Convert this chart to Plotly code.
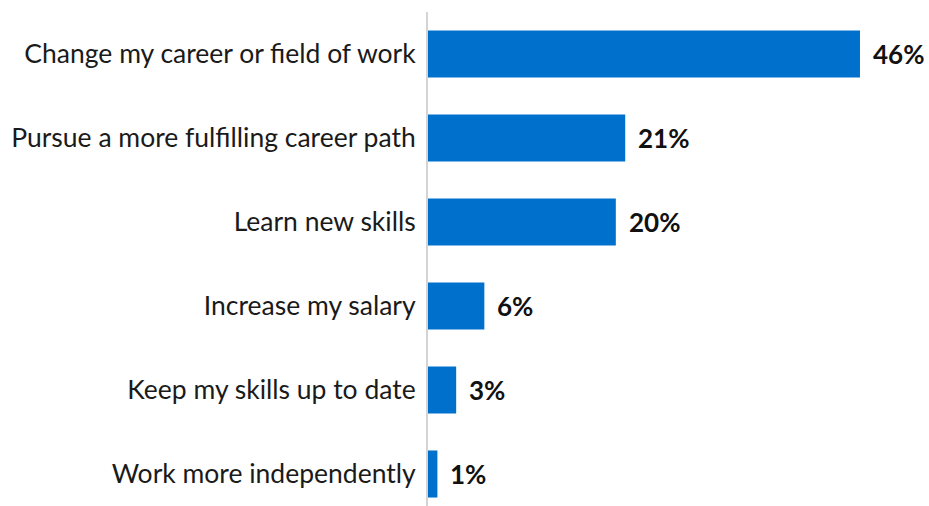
import plotly.graph_objects as go

# Survey responses: main reason for pursuing training
categories = [
    "Change my career or field of work",
    "Pursue a more fulfilling career path",
    "Learn new skills",
    "Increase my salary",
    "Keep my skills up to date",
    "Work more independently",
]
values = [46, 21, 20, 6, 3, 1]
value_labels = [f"{v}%" for v in values]

BAR_COLOR = "#0070cd"
FONT = "Lato"

fig = go.Figure(
    go.Bar(
        x=values,
        y=categories,
        orientation="h",
        marker=dict(color=BAR_COLOR, line=dict(width=0)),
        width=0.56,
        hoverinfo="skip",
    )
)

# value labels to the right of each bar
for cat, v, lab in zip(categories, values, value_labels):
    fig.add_annotation(
        x=v, y=cat, text=f"<b>{lab}</b>", showarrow=False,
        xanchor="left", yanchor="middle", xshift=11,
        font=dict(family=FONT, size=26, color="#111111"),
    )

fig.update_layout(
    width=929,
    height=506,
    margin=dict(l=428, r=0, t=12, b=0),
    paper_bgcolor="white",
    plot_bgcolor="white",
    showlegend=False,
    font=dict(family=FONT, size=26, color="#1a1a1a"),
    xaxis=dict(
        range=[0, 53.35],
        visible=False,
        showgrid=False,
        zeroline=False,
        fixedrange=True,
    ),
    yaxis=dict(
        categoryorder="array",
        categoryarray=categories,
        range=[5.381, -0.5],
        showgrid=False,
        zeroline=False,
        showline=True,
        linecolor="#d4d4d4",
        linewidth=2,
        ticks="",
        ticklabelstandoff=5,
        tickfont=dict(family=FONT, size=26.5, color="#1a1a1a"),
        fixedrange=True,
    ),
)

fig.write_html("out.html")
